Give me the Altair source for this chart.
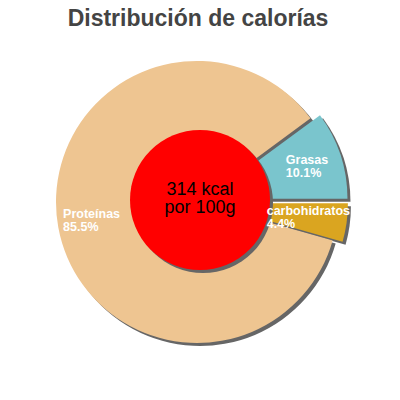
import math
import altair as alt
import pandas as pd

# ---- data ----
categories = ["Grasas", "carbohidratos", "Proteínas"]
percents = [10.1, 4.4, 85.5]
colors = ["#7AC5CD", "#DAA520", "#EEC591"]
exploded = [1, 1, 0]
kcal = [314]
center_unit = ["por 100g"]
title_text = ["Distribución de calorías"]

# ---- layout ----
CX, CY = 189, 194          # pie centre (px)
R = 141                    # pie radius
HX, HY = 192, 192          # centre of red disc
HOLE_R = 70
EXPLODE = 10
SHADOW = 3
START = math.radians(53.6)
LABEL_R = 105
SHADOW_COLOR = "#666666"
FONT = "Liberation Sans"

df = pd.DataFrame({"cat": categories, "pct": percents, "color": colors,
                   "ex": exploded, "order": list(range(len(categories)))})

base = (
    alt.Chart(df)
    .transform_window(cum="sum(pct)", sort=[alt.SortField("order")], frame=[None, 0])
    .transform_calculate(t0=f"{START} + (datum.cum - datum.pct) / 100 * 2 * PI")
    .transform_calculate(t1=f"{START} + datum.cum / 100 * 2 * PI")
    .transform_calculate(mid="(datum.t0 + datum.t1) / 2")
    .transform_calculate(cx=f"{CX} + datum.ex * {EXPLODE} * sin(datum.mid)")
    .transform_calculate(cy=f"{CY} - datum.ex * {EXPLODE} * cos(datum.mid)")
)

def X(f):
    return alt.X(f, type="quantitative", scale=None, axis=None)

def Y(f):
    return alt.Y(f, type="quantitative", scale=None, axis=None)

theta = alt.Theta("t0:Q", scale=None, stack=None)
theta2 = alt.Theta2("t1:Q")

shadow = (
    base.transform_calculate(sx=f"datum.cx + {SHADOW}", sy=f"datum.cy + {SHADOW}")
    .mark_arc(radius=R, color=SHADOW_COLOR)
    .encode(x=X("sx"), y=Y("sy"), theta=theta, theta2=theta2)
)

slices = base.mark_arc(radius=R).encode(
    x=X("cx"), y=Y("cy"), theta=theta, theta2=theta2,
    color=alt.Color("color:N", scale=None),
)

labels_base = (
    base.transform_calculate(line2="datum.pct + '%'")
    .transform_calculate(
        lx=f"datum.cx + {LABEL_R} * sin(datum.mid) - 3.4 * max(length(datum.cat), length(datum.line2))"
    )
    .transform_calculate(ly=f"datum.cy - {LABEL_R} * cos(datum.mid)")
    .transform_calculate(ly1="datum.ly - 6.5", ly2="datum.ly + 6.5")
)
lab_style = dict(align="left", baseline="middle", color="white", fontSize=12.5,
                 fontWeight="bold", font=FONT)
label1 = labels_base.mark_text(**lab_style).encode(x=X("lx"), y=Y("ly1"), text="cat:N")
label2 = labels_base.mark_text(**lab_style).encode(x=X("lx"), y=Y("ly2"), text="line2:N")

hole_df = pd.DataFrame({"kcal": kcal, "unit": center_unit})
hole_base = alt.Chart(hole_df)
hole_shadow = hole_base.mark_arc(radius=HOLE_R, theta=0, theta2=2 * math.pi, color=SHADOW_COLOR).encode(
    x=alt.value(HX + SHADOW), y=alt.value(HY + SHADOW))
hole = hole_base.mark_arc(radius=HOLE_R, theta=0, theta2=2 * math.pi, color="#FF0000").encode(
    x=alt.value(HX), y=alt.value(HY))
center1 = hole_base.transform_calculate(t="datum.kcal + ' kcal'").mark_text(
    align="center", baseline="alphabetic", fontSize=18, font=FONT, color="black"
).encode(x=alt.value(HX), y=alt.value(HY - 5), text="t:N")
center2 = hole_base.mark_text(
    align="center", baseline="alphabetic", fontSize=18, font=FONT, color="black"
).encode(x=alt.value(HX), y=alt.value(HY + 13), text="unit:N")

title = alt.Chart(pd.DataFrame({"t": title_text})).mark_text(
    align="center", baseline="alphabetic", fontSize=23, fontWeight="bold", font=FONT, color="#444444"
).encode(x=alt.value(190), y=alt.value(17.5), text="t:N")

chart = (
    alt.layer(shadow, slices, hole_shadow, hole, label1, label2, center1, center2, title)
    .properties(width=384, height=384, padding=0, autosize="none")
    .configure_view(stroke=None)
)

chart.save("out.html", embed_options={"renderer": "svg", "actions": False})
